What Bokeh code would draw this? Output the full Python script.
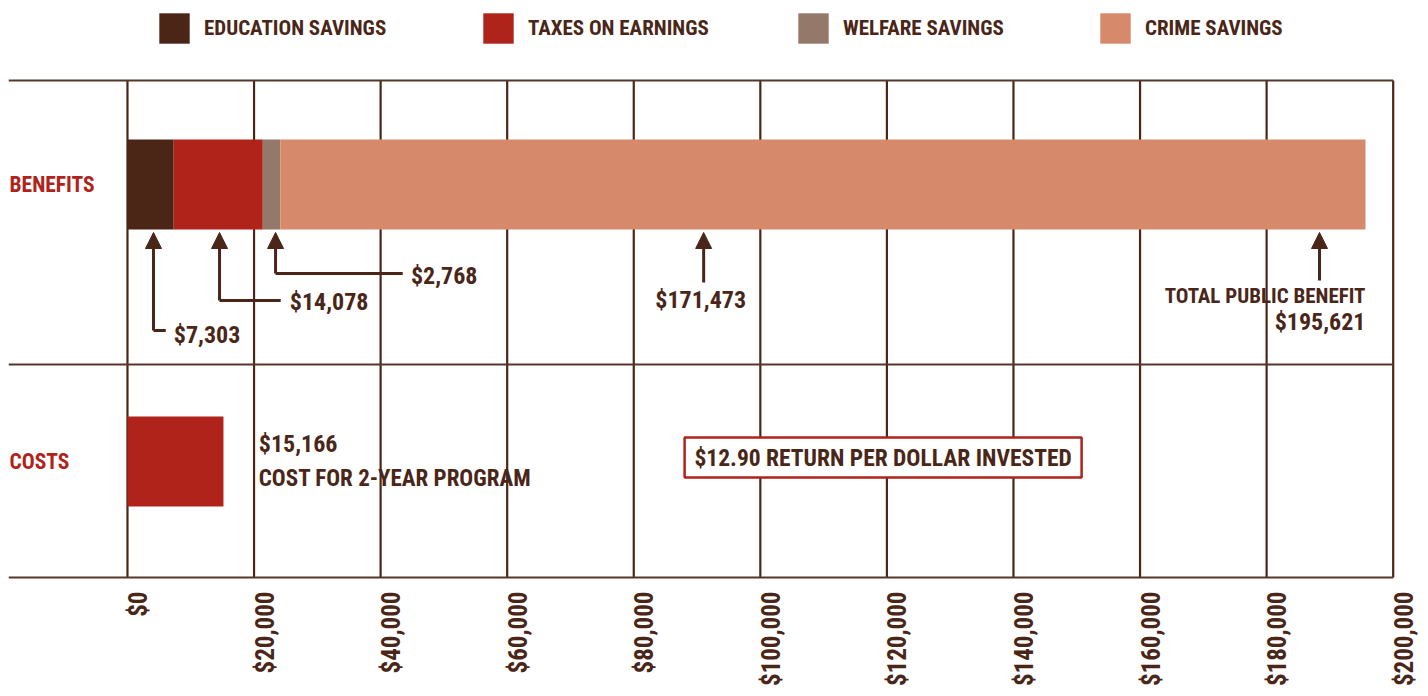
from bokeh.plotting import figure
from bokeh.models import (Range1d, FixedTicker, Legend, LegendItem, Arrow, NormalHead,
                          ColumnDataSource, LinearAxis)
from bokeh.core.properties import value
from bokeh.embed import file_html
from bokeh.resources import INLINE
import math

# ---------------- data ----------------
ROWS = ["BENEFITS", "COSTS"]
BENEFIT_SERIES = ["education", "taxes", "welfare", "crime"]
BENEFIT_LABELS = ["EDUCATION SAVINGS", "TAXES ON EARNINGS", "WELFARE SAVINGS", "CRIME SAVINGS"]
BENEFIT_VALUES = [7303, 14078, 2768, 171473]
BENEFIT_TEXT = ["$7,303", "$14,078", "$2,768", "$171,473"]
TOTAL_BENEFIT = 195621
TOTAL_TEXT = ["TOTAL PUBLIC BENEFIT", "$195,621"]
COST_VALUE = 15166
COST_TEXT = ["$15,166", "COST FOR 2-YEAR PROGRAM"]
RETURN_TEXT = "$12.90 RETURN PER DOLLAR INVESTED"
TICKS = [0, 20000, 40000, 60000, 80000, 100000, 120000, 140000, 160000, 180000, 200000]
TICK_LABELS = ["$0", "$20,000", "$40,000", "$60,000", "$80,000", "$100,000",
               "$120,000", "$140,000", "$160,000", "$180,000", "$200,000"]

# ---------------- style ----------------
FONT = "'Roboto Condensed', 'DejaVu Sans Condensed', 'Liberation Sans Narrow', Roboto"
BROWN = "#4A2618"
RED = "#B0231A"
COLORS = ["#4B2617", "#B0231A", "#94796A", "#D6896B"]
LINE_COLOR = "#55362a"

X_START, X_END = -18800, 205580
LABEL_SHIFT = 1740   # tick labels sit just right of their grid line
Y_BENEFITS, Y_COSTS = 393, 116
ROW_Y = [Y_BENEFITS, Y_COSTS]
BAR_H = 90
Y_TOP, Y_MID, Y_BOT = 497, 213, 0
LEGEND_X = [147, 471, 786, 1088]

p = figure(width=1428, height=696, output_backend="svg", toolbar_location=None,
           x_range=Range1d(X_START, X_END), y_range=Range1d(-2, 569),
           x_axis_location=None, y_axis_location=None, min_border_left=8, min_border_top=8,
           min_border_right=0, min_border_bottom=117)
p.extra_x_ranges = {"labels": Range1d(X_START - LABEL_SHIFT, X_END - LABEL_SHIFT)}
p.outline_line_color = None
p.grid.visible = False
p.background_fill_color = "white"
p.border_fill_color = "white"

# vertical grid lines and horizontal row separators
p.segment(x0=TICKS, y0=[Y_BOT] * len(TICKS), x1=TICKS, y1=[Y_TOP] * len(TICKS),
          line_color=BROWN, line_width=2.2)
p.segment(x0=[X_START] * 3, y0=[Y_TOP, Y_MID, Y_BOT], x1=[TICKS[-1]] * 3,
          y1=[Y_TOP, Y_MID, Y_BOT], line_color=LINE_COLOR, line_width=2)

# stacked benefits bar
src = ColumnDataSource(dict(y=[Y_BENEFITS], **{k: [v] for k, v in zip(BENEFIT_SERIES, BENEFIT_VALUES)}))
rs = p.hbar_stack(BENEFIT_SERIES, y="y", height=BAR_H, color=COLORS, source=src, line_width=0)

# cost bar
p.hbar(y=[Y_COSTS], left=[0], right=[COST_VALUE], height=BAR_H, fill_color=RED, line_color=None)

# legend: one entry per legend box, each placed like the original
for lab, r, lx in zip(BENEFIT_LABELS, rs, LEGEND_X):
    lg = Legend(items=[LegendItem(label=lab, renderers=[r])],
                location=(lx, 571 - 39), glyph_width=38, glyph_height=38,
                label_height=38, label_standoff=11, padding=0, margin=0,
                border_line_color=None, background_fill_alpha=0,
                label_text_font=FONT, label_text_font_style="bold",
                label_text_font_size="21px", label_text_color=BROWN,
                label_text_baseline="middle")
    p.add_layout(lg)

# row labels
p.text(x=[-18640, -18640], y=ROW_Y, text=ROWS, text_font=value(FONT), text_font_style="bold",
       text_font_size="21.5px", text_color=RED, text_align="left", text_baseline="middle")

# arrows
head = dict(size=16, fill_color=BROWN, line_color=BROWN)
TIP_Y = 345
ARROW_X = [4110, 14545, 23400, 91044, 188358]
ELBOW_Y = [247, 277, 304]
ELBOW_END = [6051, 24218, 43492]
for i in range(3):
    p.add_layout(Arrow(x_start=ARROW_X[i], y_start=ELBOW_Y[i], x_end=ARROW_X[i], y_end=TIP_Y,
                       line_color=BROWN, line_width=3, end=NormalHead(**head)))
p.multi_line(xs=[[ARROW_X[i], ELBOW_END[i]] for i in range(3)],
             ys=[[ELBOW_Y[i], ELBOW_Y[i]] for i in range(3)], line_color=BROWN, line_width=3)
p.add_layout(Arrow(x_start=ARROW_X[3], y_start=295, x_end=ARROW_X[3], y_end=TIP_Y,
                   line_color=BROWN, line_width=3, end=NormalHead(**head)))
p.add_layout(Arrow(x_start=ARROW_X[4], y_start=297, x_end=ARROW_X[4], y_end=TIP_Y,
                   line_color=BROWN, line_width=3, end=NormalHead(**head)))

num = dict(text_font=value(FONT), text_font_style="bold", text_color=BROWN, text_baseline="middle")
p.text(x=[7315, 25655, 44788], y=[243, 276, 302], text=BENEFIT_TEXT[:3],
       text_font_size="24px", text_align="left", **num)
p.text(x=[90570], y=[278], text=[BENEFIT_TEXT[3]], text_font_size="24px", text_align="center", **num)
p.text(x=[TOTAL_BENEFIT, TOTAL_BENEFIT], y=[282, 256], text=TOTAL_TEXT,
       text_font_size=["21px", "24px"], text_align="right", **num)

# cost annotation
p.text(x=[20745, 20745], y=[134, 99], text=COST_TEXT, text_font_size=["24px", "23px"],
       text_align="left", **num)

# return box
p.rect(x=[119400], y=[120], width=397, height=40, width_units="screen", height_units="screen",
       fill_color="white", line_color=RED, line_width=2.5)
p.text(x=[119400], y=[120], text=[RETURN_TEXT], text_font_size="23.5px", text_align="center", **num)

# x axis (labels placed just to the right of each grid line)
ax = LinearAxis(x_range_name="labels")
ax.ticker = FixedTicker(ticks=TICKS)
ax.major_label_overrides = {t: l for t, l in zip(TICKS, TICK_LABELS)}
ax.major_label_orientation = math.pi / 2
ax.axis_line_color = None
ax.major_tick_line_color = None
ax.minor_tick_line_color = None
ax.major_tick_out = 0
ax.major_tick_in = 0
ax.major_label_standoff = 12
ax.major_label_text_font = FONT
ax.major_label_text_font_style = "bold"
ax.major_label_text_font_size = "25px"
ax.major_label_text_color = BROWN
p.add_layout(ax, "below")

open("out.html", "w").write(file_html(p, INLINE))
